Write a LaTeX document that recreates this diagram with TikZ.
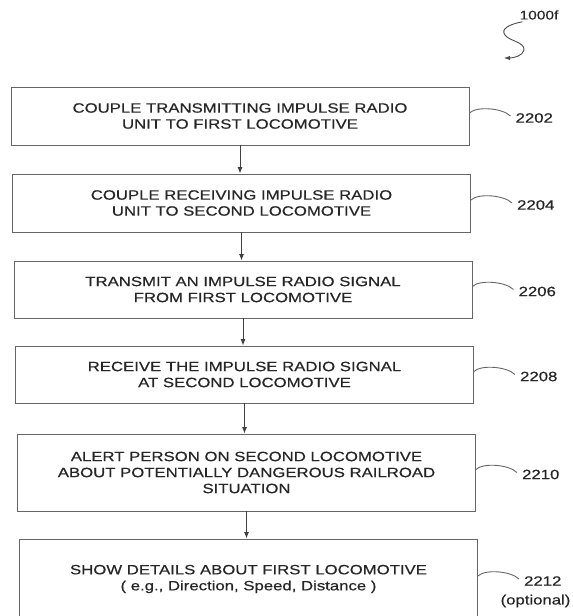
\documentclass[tikz,border=0pt]{standalone}
\usepackage{fontspec}
\setmainfont{Liberation Sans}[FakeStretch=1.24, FakeBold=0.5]
\usetikzlibrary{arrows.meta,calc}
\begin{document}
\begin{tikzpicture}[x=1pt,y=-1pt,
  txt/.style={text=black!85, font=\fontsize{13.5}{16}\selectfont},
  stepbox/.style={txt, draw=black!60, line width=0.9pt, minimum width=458pt, align=center, inner sep=0pt},
  lbl/.style={txt, inner sep=0pt, anchor=west},
  flow/.style={draw=black!75, line width=0.9pt, -{Latex[length=6.5pt,width=5pt]}},
  hook/.style={draw=black!60, line width=0.9pt}]
\useasboundingbox (0,0) rectangle (573,616);

\node[stepbox, minimum height=58pt] (b1) at (240,116) {COUPLE TRANSMITTING IMPULSE RADIO\\UNIT TO FIRST LOCOMOTIVE};
\node[stepbox, minimum height=58pt] (b2) at (241.5,203) {COUPLE RECEIVING IMPULSE RADIO\\UNIT TO SECOND LOCOMOTIVE};
\node[stepbox, minimum height=57pt] (b3) at (243,289.5) {TRANSMIT AN IMPULSE RADIO SIGNAL\\FROM FIRST LOCOMOTIVE};
\node[stepbox, minimum height=57pt] (b4) at (244.5,374.5) {RECEIVE THE IMPULSE RADIO SIGNAL\\AT SECOND LOCOMOTIVE};
\node[stepbox, minimum height=77pt] (b5) at (246.5,472.5) {ALERT PERSON ON SECOND LOCOMOTIVE\\ABOUT POTENTIALLY DANGEROUS RAILROAD\\SITUATION};
\node[stepbox, minimum height=80pt] (b6) at (248.5,579) {SHOW DETAILS ABOUT FIRST LOCOMOTIVE\\( e.g., Direction, Speed, Distance )};

\draw[flow] (b1.south) -- (b1.south |- b2.north);
\draw[flow] (b2.south) -- (b2.south |- b3.north);
\draw[flow] (b3.south) -- (b3.south |- b4.north);
\draw[flow] (b4.south) -- (b4.south |- b5.north);
\draw[flow] (b5.south) -- (b5.south |- b6.north);

\foreach \b/\n in {b1/2202,b2/2204,b3/2206,b4/2208,b5/2210,b6/2212}{
  \node[lbl] (l\n) at ($(\b.east)+(46,2)$) {\n};
  \draw[hook] ($(\b.east)+(0,-3)$) .. controls +(7,-7) and +(-8,-8) .. ($(l\n.west)+(-5,-2)$);
}
\node[txt, inner sep=0pt] (opt) at (535.5,601) {(optional)};

\node[txt, inner sep=0pt, font=\fontsize{12.5}{14}\selectfont] (ref) at (539,15) {1000f};
\coordinate (refend) at (504,58);
\draw[line width=0.9pt, draw=black!70, -{Latex[length=6pt,width=4.5pt]}]
  ($(ref.south west)+(3,2)$) .. controls (510,24) and (500,29) .. (505,35)
  .. controls (509,41) and (525,42) .. (524,50)
  .. controls (523,56) and (513,58) .. (refend);
\end{tikzpicture}
\end{document}
